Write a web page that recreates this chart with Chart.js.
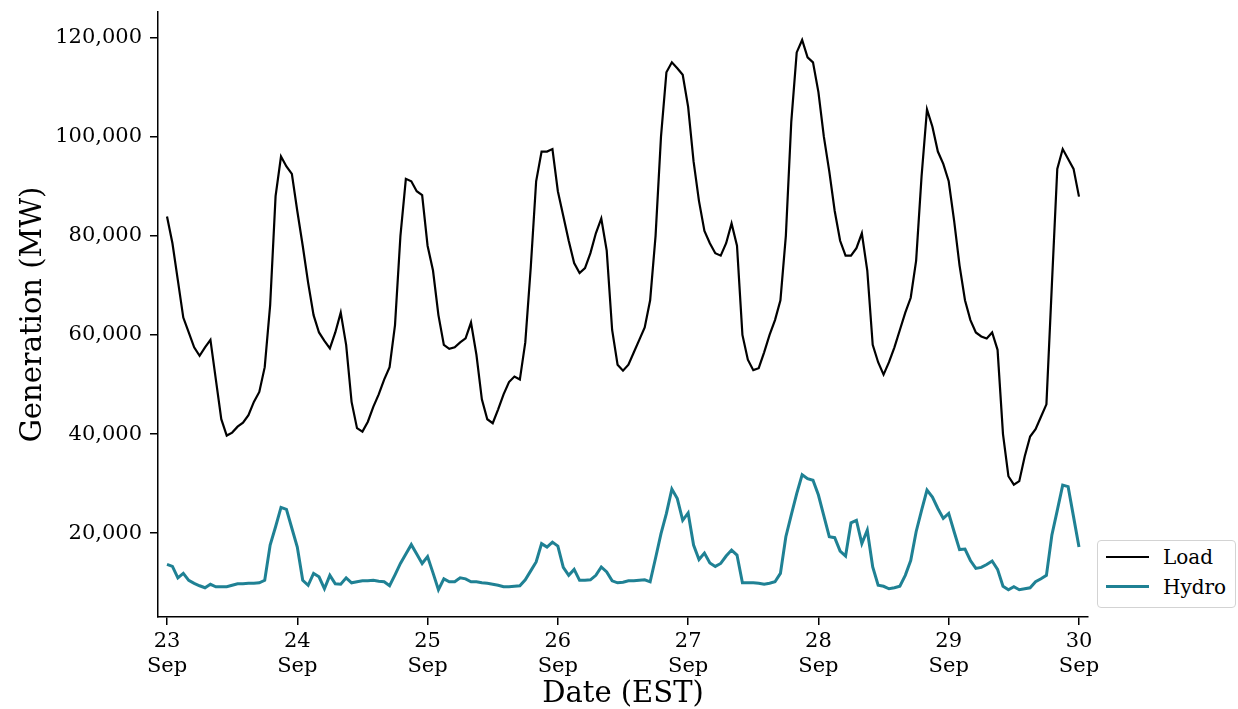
<!DOCTYPE html>
<html>
<head>
<meta charset="utf-8">
<script src="https://cdn.jsdelivr.net/npm/chart.js@4.4.1/dist/chart.umd.min.js"></script>
<style>
  body { margin: 0; background: #fff; }
  #wrap { position: relative; width: 1238px; height: 709px; }
  .legend { position: absolute; left: 1097px; top: 540px; width: 137px; height: 66px; border: 1px solid #d3d3d3; border-radius: 4px; background: #fff; font-family: 'DejaVu Serif', serif; font-size: 20px; color: #000; }
  .row { position: absolute; left: 0; width: 137px; height: 24px; line-height: 24px; }
  .swatch { position: absolute; left: 8px; width: 43px; }
  .lbl { position: absolute; left: 65px; }
</style>
</head>
<body>
<div id="wrap">
  <canvas id="chart" width="1238" height="709"></canvas>
  <div class="legend">
    <div class="row" style="top:4px"><span class="swatch" style="top:11px;height:2px;background:#000"></span><span class="lbl">Load</span></div>
    <div class="row" style="top:34px"><span class="swatch" style="top:10px;height:3px;background:#1f8194"></span><span class="lbl">Hydro</span></div>
  </div>
</div>
<script>
// hourly values, 23 Sep 00:00 -> 30 Sep 00:00 (EST)
const loadMW = [
  83900, 78500, 71000, 63500, 60500, 57500, 55800, 57500, 59000, 51000, 43000, 39700,
  40300, 41500, 42300, 43800, 46500, 48500, 53500, 66000, 88000, 96000, 94000, 92500,
  85000, 78000, 70500, 64000, 60500, 58800, 57300, 60500, 64500, 58000, 46500, 41200,
  40500, 42500, 45500, 48000, 51000, 53500, 62000, 80000, 91500, 91000, 89000, 88200,
  78000, 73000, 64000, 58000, 57200, 57500, 58500, 59300, 62500, 56000, 47000, 43000,
  42200, 45000, 48000, 50500, 51600, 51000, 58500, 73500, 91000, 97000, 97000, 97500,
  89000, 84000, 79000, 74500, 72500, 73500, 76500, 80500, 83500, 77000, 61000, 54000,
  52800, 54000, 56500, 59000, 61500, 67000, 80000, 100000, 113000, 115000, 113800, 112500,
  106000, 95000, 87000, 81000, 78500, 76500, 76000, 78500, 82500, 78000, 60000, 55000,
  52900, 53300, 56500, 60000, 63000, 67000, 80000, 103000, 117000, 119500, 116000, 115000,
  109000, 100000, 93000, 85000, 79000, 76000, 76000, 77500, 80500, 73000, 58000, 54500,
  52000, 54500, 57500, 61000, 64500, 67500, 75000, 92000, 105500, 102000, 97000, 94500,
  91000, 83000, 74000, 67000, 63000, 60500, 59700, 59300, 60500, 57000, 40000, 31500,
  29800, 30500, 35500, 39500, 41000, 43500, 46000, 70000, 93500, 97500, 95500, 93500,
  87900
];
const hydroMW = [
  13700, 13300, 11000, 11900, 10500, 9900, 9400, 9000, 9700, 9200, 9200, 9200,
  9500, 9800, 9800, 9900, 9900, 10000, 10500, 17600, 21300, 25200, 24800, 21000,
  17200, 10500, 9500, 11900, 11200, 8800, 11500, 9800, 9700, 11000, 10000, 10200,
  10400, 10400, 10500, 10300, 10200, 9400, 11600, 13900, 15800, 17700, 15800, 13900,
  15300, 12000, 8600, 10800, 10200, 10200, 11000, 10800, 10200, 10200, 10000, 9900,
  9700, 9500, 9200, 9200, 9300, 9400, 10600, 12400, 14200, 17900, 17200, 18200,
  17400, 13100, 11500, 12700, 10500, 10500, 10600, 11500, 13200, 12200, 10400, 10000,
  10100, 10400, 10400, 10500, 10600, 10200, 15000, 19900, 24000, 28900, 27000, 22600,
  24100, 17600, 14700, 16000, 14000, 13300, 13900, 15400, 16600, 15600, 10000, 10000,
  10000, 9900, 9700, 9900, 10200, 11900, 19300, 23700, 28000, 31800, 31000, 30700,
  27700, 23500, 19300, 19100, 16400, 15400, 22100, 22600, 17900, 20600, 13200, 9500,
  9300, 8800, 9000, 9300, 11500, 14500, 20300, 24600, 28700, 27300, 25000, 23000,
  24000, 20300, 16700, 16800, 14500, 12900, 13100, 13700, 14400, 12700, 9300, 8600,
  9200, 8600, 8800, 9000, 10200, 10800, 11500, 19600, 24600, 29700, 29400, 23300,
  17200
];
const tickHours = [0, 24, 48, 72, 96, 120, 144, 168];
const dayLabels = ['23', '24', '25', '26', '27', '28', '29', '30'];
const monthLabel = 'Sep';
const yTicks = [20000, 40000, 60000, 80000, 100000, 120000];

const serif = "'DejaVu Serif', serif";
const pts = arr => arr.map((v, i) => ({ x: i, y: v }));

new Chart(document.getElementById('chart'), {
  type: 'line',
  data: {
    datasets: [
      { label: 'Load', data: pts(loadMW), borderColor: '#000', borderWidth: 2.2, pointRadius: 0, tension: 0 },
      { label: 'Hydro', data: pts(hydroMW), borderColor: '#1f8194', borderWidth: 3, pointRadius: 0, tension: 0 }
    ]
  },
  options: {
    responsive: false,
    animation: false,
    devicePixelRatio: 1,
    layout: { padding: { top: 12, right: 150, bottom: 0, left: 0 } },
    plugins: { legend: { display: false }, tooltip: { enabled: false } },
    scales: {
      x: {
        type: 'linear', min: -1.66, max: 169.66,
        afterBuildTicks: s => { s.ticks = tickHours.map(v => ({ value: v })); },
        afterFit: s => { s.height = 92; s.paddingLeft = 0; s.paddingRight = 0; },
        ticks: {
          autoSkip: false, maxRotation: 0, padding: 4, color: '#000',
          font: { family: serif, size: 21 },
          callback: (v, i) => [dayLabels[i], monthLabel]
        },
        grid: { drawOnChartArea: false, tickLength: 8, color: '#000', lineWidth: 1.5 },
        border: { color: '#000', width: 1.5 },
        title: { display: true, text: 'Date (EST)', color: '#000', font: { family: serif, size: 29 }, padding: { top: 0, bottom: -3 } }
      },
      y: {
        min: 3100, max: 125150,
        afterBuildTicks: s => { s.ticks = yTicks.map(v => ({ value: v })); },
        afterFit: s => { s.width = 158; s.paddingTop = 0; s.paddingBottom = 0; },
        ticks: {
          padding: 8, color: '#000',
          font: { family: serif, size: 21 },
          callback: v => v.toLocaleString('en-US')
        },
        grid: { drawOnChartArea: false, tickLength: 8, color: '#000', lineWidth: 1.5 },
        border: { color: '#000', width: 1.5 },
        title: { display: true, text: 'Generation (MW)', color: '#000', font: { family: serif, size: 29 }, padding: { top: 16, bottom: 0 } }
      }
    }
  }
});
</script>
</body>
</html>
